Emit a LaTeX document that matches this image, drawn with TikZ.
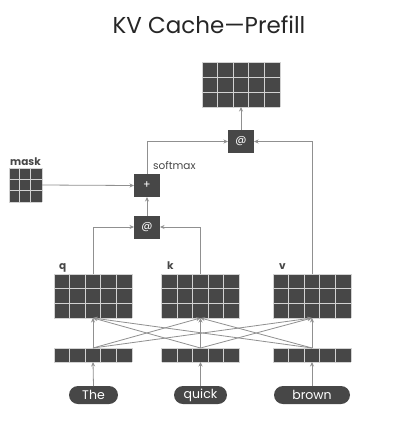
\documentclass[tikz,border=0pt]{standalone}
\usepackage{fontspec}
\setmainfont{Poppins}
\usetikzlibrary{calc,arrows.meta}
\definecolor{boxgray}{HTML}{474747}
\definecolor{linegray}{HTML}{909090}
\definecolor{cellline}{HTML}{D2D2D2}
\tikzset{
  matbox/.style={fill=boxgray,draw=none,inner sep=0pt,outer sep=0pt},
  opbox/.style={fill=boxgray,draw=none,inner sep=0pt,outer sep=0pt,minimum width=26pt,minimum height=23pt,text=white,font=\fontsize{11}{11}\selectfont},
  pill/.style={fill=boxgray,draw=none,inner sep=0pt,outer sep=0pt,minimum height=18pt,rounded corners=9pt,text=white,font=\fontsize{12.5}{13}\selectfont},
  gridln/.style={draw=cellline,line width=1pt},
  conn/.style={draw=linegray,line width=0.8pt,-{Stealth[length=4.5pt,width=4pt]}},
  lbl/.style={inner sep=0pt,font=\bfseries\fontsize{10.5}{11}\selectfont,text=boxgray,anchor=base west},
}
\newcommand\cellgrid[3]{%
  \foreach \i in {0,...,#2}{\draw[gridln] ($(#1.north west)!\i/#2!(#1.north east)$) -- ($(#1.south west)!\i/#2!(#1.south east)$);}
  \foreach \j in {0,...,#3}{\draw[gridln] ($(#1.north west)!\j/#3!(#1.south west)$) -- ($(#1.north east)!\j/#3!(#1.south east)$);}
}
\begin{document}
\begin{tikzpicture}[x=1pt,y=-1pt]
\useasboundingbox[fill=white] (0,0) rectangle (400,424);
% title
\node[inner sep=0pt,font=\fontsize{23}{24}\selectfont,text=black!85] (title) at (209,25) {KV Cache—Prefill};
% matrices
\node[matbox,minimum width=78pt,minimum height=45pt] (out) at (241,84.5) {};
\node[matbox,minimum width=33pt,minimum height=34pt] (mask) at (25.5,185) {};
\node[matbox,minimum width=78pt,minimum height=44pt] (q) at (93,296) {};
\node[matbox,minimum width=78pt,minimum height=44pt] (k) at (200.5,296) {};
\node[matbox,minimum width=78pt,minimum height=44pt] (v) at (312,296) {};
\node[matbox,minimum width=78pt,minimum height=14pt] (eq) at (93,355) {};
\node[matbox,minimum width=78pt,minimum height=14pt] (ek) at (200.5,355) {};
\node[matbox,minimum width=78pt,minimum height=14pt] (ev) at (312,355) {};
\cellgrid{out}{5}{3}
\cellgrid{mask}{3}{3}
\cellgrid{q}{5}{3}
\cellgrid{k}{5}{3}
\cellgrid{v}{5}{3}
\cellgrid{eq}{5}{1}
\cellgrid{ek}{5}{1}
\cellgrid{ev}{5}{1}
% labels
\node[lbl] (lmask) at (10,165) {mask};
\node[lbl] (lq) at (59,269) {q};
\node[lbl] (lk) at (167,269) {k};
\node[lbl] (lv) at (279,269) {v};
\node[inner sep=0pt,anchor=base west,font=\fontsize{10.5}{11}\selectfont,text=boxgray] (lsoft) at (153,169) {softmax};
% op boxes
\node[opbox] (attop) at (241,141.5) {@};
\node[opbox] (plus) at (147,185.5) {+};
\node[opbox] (atlow) at (147,227) {@};
% pills
\node[pill,minimum width=49pt] (the) at (93.5,395) {The};
\node[pill,minimum width=53pt] (quick) at (200.5,395) {quick};
\node[pill,minimum width=76pt] (brown) at (312,395) {brown};
% connectors
\draw[conn] (attop.north) -- (out.south);
\draw[conn] (plus.north) |- (attop.west);
\draw[conn] (v.north) |- (attop.east);
\draw[conn] (mask.east) -- (plus.west);
\draw[conn] (atlow.north) -- (plus.south);
\draw[conn] (q.north) |- (atlow.west);
\draw[conn] (k.north) |- (atlow.east);
\foreach \e in {eq,ek,ev}{
  \foreach \m in {q,k,v}{
    \draw[conn] (\e.north) -- (\m.south);
  }
}
\draw[conn] (the.north) -- (eq.south);
\draw[conn] (quick.north) -- (ek.south);
\draw[conn] (brown.north) -- (ev.south);
\end{tikzpicture}
\end{document}
